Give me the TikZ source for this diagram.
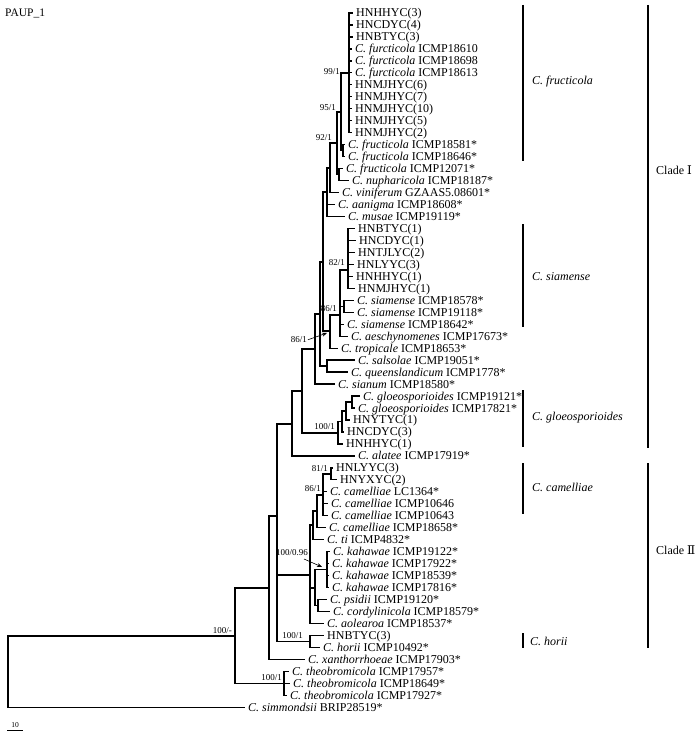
\documentclass[tikz,border=0pt]{standalone}
\usepackage{fontspec}
\setmainfont{Liberation Serif}
\newfontfamily\numfont{DejaVu Serif}
\usetikzlibrary{arrows.meta}
\newcommand\treeedges[2]{\foreach \c in {#2} {\draw[br] (#1) |- (\c);}}
\begin{document}
\begin{tikzpicture}[x=1bp,y=-1bp,
  br/.style={line width=1.3bp},
  leaf/.style={anchor=west, inner sep=0pt, font=\fontsize{12bp}{14bp}\selectfont, text height=8bp, text depth=0pt},
  bootlab/.style={anchor=south east, inner sep=0pt, font=\fontsize{9bp}{10bp}\selectfont},
  arr/.style={line width=0.6bp, -{Stealth[length=5bp,width=4bp]}},
  sbar/.style={line width=1.4bp},
  cbar/.style={line width=2bp},
  clab/.style={anchor=west, inner sep=0pt, font=\fontsize{12bp}{14bp}\selectfont\itshape},
  cladelab/.style={anchor=west, inner sep=0pt, font=\fontsize{12bp}{14bp}\selectfont}]
\path[fill=white, use as bounding box] (0,0) rectangle (700,734);
% leaves
\foreach \n/\tx/\txt in {
1/352.5/{HNHHYC(3)},
2/352.5/{HNCDYC(4)},
3/352.5/{HNBTYC(3)},
4/351.5/{\textit{C. furcticola} ICMP18610},
5/351.5/{\textit{C. furcticola} ICMP18698},
6/351.5/{\textit{C. furcticola} ICMP18613},
7/351.5/{HNMJHYC(6)},
8/351.5/{HNMJHYC(7)},
9/351.5/{HNMJHYC(10)},
10/351.5/{HNMJHYC(5)},
11/351.5/{HNMJHYC(2)},
12/344.5/{\textit{C. fructicola} ICMP18581*},
13/344.5/{\textit{C. fructicola} ICMP18646*},
14/342.5/{\textit{C. fructicola} ICMP12071*},
15/348.5/{\textit{C. nupharicola} ICMP18187*},
16/338.5/{\textit{C. viniferum} GZAAS5.08601*},
17/334.5/{\textit{C. aanigma} ICMP18608*},
18/344.5/{\textit{C. musae} ICMP19119*},
19/354.5/{HNBTYC(1)},
20/355.5/{HNCDYC(1)},
21/354.5/{HNTJLYC(2)},
22/353.5/{HNLYYC(3)},
23/352.5/{HNHHYC(1)},
24/354.5/{HNMJHYC(1)},
25/353.5/{\textit{C. siamense} ICMP18578*},
26/353.5/{\textit{C. siamense} ICMP19118*},
27/343.5/{\textit{C. siamense} ICMP18642*},
28/347.5/{\textit{C. aeschynomenes} ICMP17673*},
29/337.5/{\textit{C. tropicale} ICMP18653*},
30/354.5/{\textit{C. salsolae} ICMP19051*},
31/347.5/{\textit{C. queenslandicum} ICMP1778*},
32/334.5/{\textit{C. sianum} ICMP18580*},
33/359.5/{\textit{C. gloeosporioides} ICMP19121*},
34/354.5/{\textit{C. gloeosporioides} ICMP17821*},
35/349.5/{HNYTYC(1)},
36/343.5/{HNCDYC(3)},
37/342.5/{HNHHYC(1)},
38/354.5/{\textit{C. alatee} ICMP17919*},
39/332.5/{HNLYYC(3)},
40/336.5/{HNYXYC(2)},
41/326.5/{\textit{C. camelliae} LC1364*},
42/327.5/{\textit{C. camelliae} ICMP10646},
43/327.5/{\textit{C. camelliae} ICMP10643},
44/325.5/{\textit{C. camelliae} ICMP18658*},
45/323.5/{\textit{C. ti} ICMP4832*},
46/329.5/{\textit{C. kahawae} ICMP19122*},
47/328.5/{\textit{C. kahawae} ICMP17922*},
48/328.5/{\textit{C. kahawae} ICMP18539*},
49/328.5/{\textit{C. kahawae} ICMP17816*},
50/326.5/{\textit{C. psidii} ICMP19120*},
51/329.5/{\textit{C. cordylinicola} ICMP18579*},
52/323.5/{\textit{C. aolearoa} ICMP18537*},
53/323.5/{HNBTYC(3)},
54/319.5/{\textit{C. horii} ICMP10492*},
55/304.5/{\textit{C. xanthorrhoeae} ICMP17903*},
56/288.5/{\textit{C. theobromicola} ICMP17957*},
57/289.5/{\textit{C. theobromicola} ICMP18649*},
58/286.5/{\textit{C. theobromicola} ICMP17927*},
59/244.5/{\textit{C. simmondsii} BRIP28519*}}
{
  \coordinate (l\n) at (\tx, {13+(\n-1)*11.97});
  \node[leaf] (t\n) at ([xshift=3.5bp]l\n) {\txt};
}
% internal nodes
\coordinate (F1) at (349,73);
\coordinate (F2b) at (343,150.7);
\coordinate (F2) at (341,112);
\coordinate (F3b) at (339,174.6);
\coordinate (F3) at (337,143);
\coordinate (F4) at (330,168);
\coordinate (F5) at (327,192);
\coordinate (S1) at (348,270);
\coordinate (S2) at (344,306.3);
\coordinate (T1) at (340,315);
\coordinate (T2) at (330,331);
\coordinate (F6) at (323,262);
\coordinate (SQ) at (327,366);
\coordinate (W) at (320,314);
\coordinate (U) at (315,349);
\coordinate (G4) at (352,402);
\coordinate (G3) at (346,411);
\coordinate (G2) at (342,421.5);
\coordinate (G) at (338,433);
\coordinate (C1a) at (302,391);
\coordinate (ClI) at (292,424);
\coordinate (Cm1) at (331,474);
\coordinate (Cm2) at (323,495);
\coordinate (Cm3) at (317,511);
\coordinate (Cm4) at (313,525);
\coordinate (Kh) at (327,569.6);
\coordinate (PC) at (318,605.5);
\coordinate (K2) at (315,588);
\coordinate (CII) at (310,575);
\coordinate (H) at (310,641.4);
\coordinate (N277) at (277,516);
\coordinate (N269) at (269,588);
\coordinate (Theo) at (284,683.3);
\coordinate (IG) at (235,636);
\coordinate (Root) at (8,671.6);
% branches
\treeedges{F1}{l1,l2,l3,l4,l5,l6,l7,l8,l9,l10,l11}
\treeedges{F2b}{l12,l13}
\treeedges{F2}{F1,F2b}
\treeedges{F3b}{l14,l15}
\treeedges{F3}{F2,F3b}
\treeedges{F4}{F3,l16}
\treeedges{F5}{F4,l17,l18}
\treeedges{S1}{l19,l20,l21,l22,l23,l24}
\treeedges{S2}{l25,l26}
\treeedges{T1}{S1,S2,l27,l28}
\treeedges{T2}{T1,l29}
\treeedges{F6}{F5,T2}
\treeedges{SQ}{l30,l31}
\treeedges{W}{F6,SQ}
\treeedges{U}{W,l32}
\treeedges{G4}{l33,l34}
\treeedges{G3}{G4,l35}
\treeedges{G2}{G3,l36}
\treeedges{G}{G2,l37}
\treeedges{C1a}{U,G}
\treeedges{ClI}{C1a,l38}
\treeedges{Cm1}{l39,l40}
\treeedges{Cm2}{Cm1,l41,l42,l43}
\treeedges{Cm3}{Cm2,l44}
\treeedges{Cm4}{Cm3,l45}
\treeedges{Kh}{l46,l47,l48,l49}
\treeedges{PC}{l50,l51}
\treeedges{K2}{Kh,PC}
\treeedges{CII}{Cm4,K2,l52}
\treeedges{H}{l53,l54}
\treeedges{N277}{ClI,CII,H}
\treeedges{N269}{N277,l55}
\treeedges{Theo}{l56,l57,l58}
\treeedges{IG}{N269,Theo}
\treeedges{Root}{IG,l59}
% support values
\node[bootlab] (b1) at (340,75) {99/1};
\node[bootlab] (b2) at (336,111) {95/1};
\node[bootlab] (b3) at (332,141) {92/1};
\node[bootlab] (b4) at (345,266) {82/1};
\node[bootlab] (b5) at (337,312) {86/1};
\node[bootlab] (b6) at (307,343) {86/1};
\coordinate (a6) at (327,333);
\draw[arr] ([xshift=1bp]b6.east) -- (a6);
\node[bootlab] (b7) at (335,430) {100/1};
\node[bootlab] (b8) at (328,472) {81/1};
\node[bootlab] (b9) at (321,492) {86/1};
\node[bootlab] (b10) at (308,556) {100/0.96};
\coordinate (a10s) at (304,559);
\coordinate (a10) at (322,567);
\draw[arr] (a10s) -- (a10);
\node[bootlab] (b11) at (303,639) {100/1};
\node[bootlab] (b12) at (282,681) {100/1};
\node[bootlab] (b13) at (232,634) {100/-};
% clade bars
\draw[sbar] (523,5) -- (523,161);
\draw[sbar] (523,224) -- (523,327);
\draw[sbar] (523,390) -- (523,447);
\draw[sbar] (523,463) -- (523,514);
\draw[sbar] (523,633) -- (523,648);
\node[clab] (cf) at (532,82) {C. fructicola};
\node[clab] (cs) at (532,277) {C. siamense};
\node[clab] (cg) at (532,418) {C. gloeosporioides};
\node[clab] (cc) at (532,487) {C. camelliae};
\node[clab] (ch) at (530,641) {C. horii};
\draw[cbar] (648,5) -- (648,448);
\draw[cbar] (648,463) -- (648,648);
\node[cladelab] (c1) at (656,170) {Clade {\numfont Ⅰ}};
\node[cladelab] (c2) at (656,550) {Clade {\numfont Ⅱ}};
% title and scale
\node[anchor=base west, inner sep=0pt, font=\fontsize{11.5bp}{12bp}\selectfont] (title) at (5,17) {PAUP\_1};
\coordinate (sb1) at (7,730);
\coordinate (sb2) at (23,730);
\draw[line width=1bp] (sb1) -- (sb2);
\node[anchor=south, inner sep=0pt, font=\fontsize{7.5bp}{8bp}\selectfont] (sbl) at (15,727.5) {10};
\end{tikzpicture}
\end{document}
